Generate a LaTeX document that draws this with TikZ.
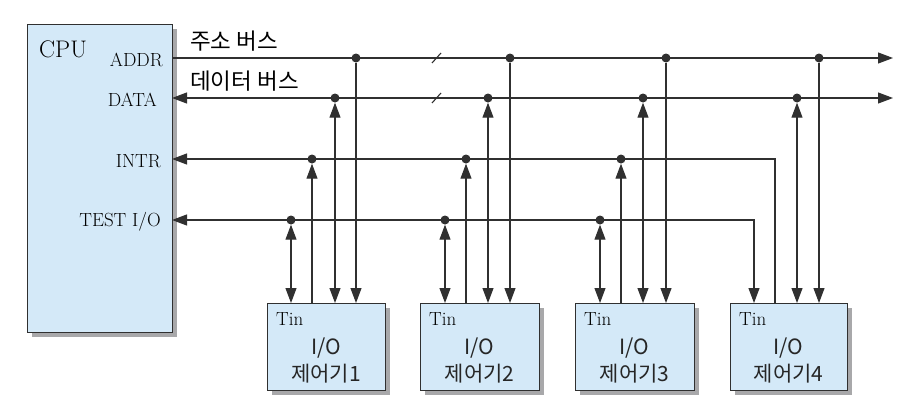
\documentclass[tikz,border=0pt]{standalone}
\usepackage{fontspec}
\newfontfamily\kr{Noto Sans CJK KR}
\usetikzlibrary{arrows.meta}
\definecolor{boxfill}{HTML}{D4E9F8}
\definecolor{shadowc}{HTML}{A8A8AA}
\definecolor{linec}{HTML}{303030}
\tikzset{
  blk/.style={draw=linec, line width=1.1pt, fill=boxfill, inner sep=0pt, anchor=north west},
  shd/.style={fill=shadowc, draw=none},
  bus/.style={draw=linec, line width=1.1pt},
  tipa/.tip={Triangle[length=15pt,width=11pt]},
  dotn/.style={circle, fill=linec, inner sep=0pt, minimum size=9pt},
  sig/.style={font=\fontsize{19}{21}\selectfont, anchor=east, inner sep=0pt},
  krl/.style={font=\kr\fontsize{22.5}{24}\selectfont, anchor=west, inner sep=0pt},
  ctl/.style={font=\kr\fontsize{21}{23}\selectfont, inner sep=0pt, text=black!85},
  tin/.style={font=\fontsize{19}{21}\selectfont, anchor=north west, inner sep=0pt}
}
\begin{document}
\begin{tikzpicture}[x=1pt,y=-1pt]
\useasboundingbox (0,0) rectangle (910,410);
% CPU
\fill[shd] (32,29) rectangle (177,337);
\node[blk, minimum width=145pt, minimum height=308pt] (cpu) at (27,24) {};
\node[font=\fontsize{24}{26}\selectfont, anchor=west, inner sep=0pt] (cpul) at (39,49) {CPU};
\node[sig] (addrl) at (163,60) {ADDR};
\node[sig] (datal) at (157,100) {DATA};
\node[sig] (intrl) at (161,161) {INTR};
\node[sig] (testl) at (161,222) {TEST I/O};
\node[krl] (ab) at (190,41) {주소 버스};
\node[krl] (db) at (190,81) {데이터 버스};
% controllers
\foreach \i/\xl/\xr in {1/267/385, 2/420/539, 3/575/694, 4/730/847}{
  \fill[shd] (\xl+5,308) rectangle (\xr+5,395);
  \node[blk, minimum width=\xr-\xl, minimum height=87pt] (b\i) at (\xl,303) {};
  \node[tin] (t\i) at (\xl+9,312) {Tin};
  \node[ctl] (io\i) at ({(\xl+\xr)/2},348) {I/O};
  \node[ctl] (c\i) at ({(\xl+\xr)/2},374) {제어기\i};
}
% bus endpoints
\coordinate (addrS) at (172,58); \coordinate (addrE) at (893,58);
\coordinate (dataS) at (172,98); \coordinate (dataE) at (893,98);
\coordinate (intrS) at (172,159); \coordinate (intrC) at (775,159);
\coordinate (testS) at (172,220); \coordinate (testC) at (754,220);
\draw[bus, -{tipa}] (addrS) -- (addrE);
\draw[bus, {tipa}-{tipa}] (dataS) -- (dataE);
\draw[bus, {tipa}-] (intrS) -- (intrC) -- (intrC |- b4.north);
\draw[bus, {tipa}-{tipa}] (testS) -- (testC) -- (testC |- b4.north);
% break marks
\draw[bus] (432,63) -- (441,53);
\draw[bus] (432,103) -- (441,93);
% taps
\foreach \i/\t/\n/\d/\a in {1/291/312/335/356, 2/445/466/488/510, 3/600/621/643/666}{
  \node[dotn] (ta\i) at (\t,220) {};
  \node[dotn] (in\i) at (\n,159) {};
  \node[dotn] (da\i) at (\d,98) {};
  \node[dotn] (ad\i) at (\a,58) {};
  \draw[bus, {tipa}-{tipa}] (ta\i.south) -- (ta\i.south |- b\i.north);
  \draw[bus, {tipa}-] (in\i.south) -- (in\i.south |- b\i.north);
  \draw[bus, {tipa}-{tipa}] (da\i.south) -- (da\i.south |- b\i.north);
  \draw[bus, -{tipa}] (ad\i) -- (ad\i |- b\i.north);
}
\node[dotn] (da4) at (797,98) {};
\node[dotn] (ad4) at (819,58) {};
\draw[bus, {tipa}-{tipa}] (da4.south) -- (da4.south |- b4.north);
\draw[bus, -{tipa}] (ad4) -- (ad4 |- b4.north);
\end{tikzpicture}
\end{document}
